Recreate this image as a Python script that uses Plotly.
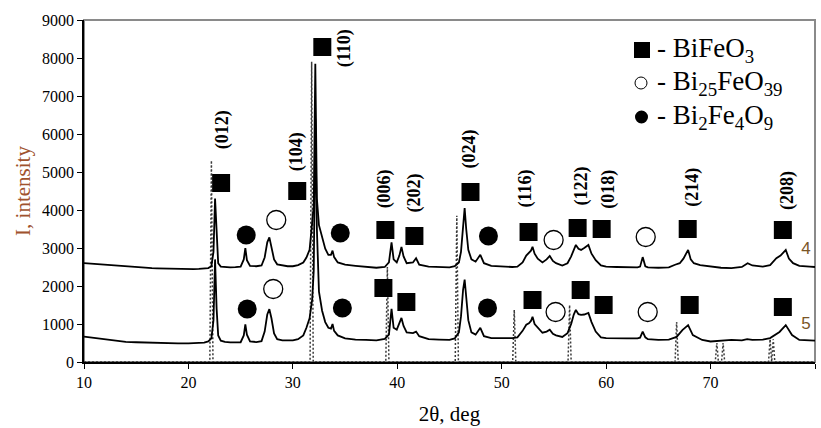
import plotly.graph_objects as go

# ---- XRD patterns (2θ in degrees, intensity in counts) ----
two_theta_4 = [10.0, 10.5, 11.0, 11.5, 12.0, 12.5, 13.0, 13.5, 14.0, 14.5, 15.0, 15.5, 16.0, 16.5,
               17.0, 17.5, 18.0, 18.5, 19.0, 19.5, 20.0, 20.5, 21.0, 21.5, 21.9, 22.2, 22.4, 22.55,
               22.7, 22.85, 23.1, 23.5, 24.0, 24.5, 25.0, 25.3, 25.45, 25.6, 25.9, 26.5, 27.0, 27.3,
               27.55, 27.75, 27.95, 28.2, 28.5, 29.0, 29.5, 30.0, 30.5, 31.0, 31.3, 31.6, 31.85, 32.0,
               32.15, 32.3, 32.5, 32.8, 33.1, 33.4, 33.65, 33.8, 33.95, 34.3, 35.0, 36.0, 37.0, 38.0,
               38.8, 39.2, 39.45, 39.65, 39.95, 40.2, 40.4, 40.6, 40.9, 41.5, 41.8, 42.1, 43.0, 44.0,
               45.0, 45.5, 45.9, 46.1, 46.3, 46.45, 46.6, 46.8, 47.1, 47.5, 47.95, 48.3, 49.0, 50.0,
               51.0, 51.5, 52.0, 52.35, 52.6, 52.8, 52.95, 53.15, 53.45, 53.9, 54.3, 54.6, 54.9, 55.2,
               55.8, 56.3, 56.65, 56.9, 57.1, 57.35, 57.6, 57.9, 58.3, 58.6, 59.0, 59.5, 60.0, 61.0,
               62.0, 63.0, 63.25, 63.5, 63.75, 64.0, 65.0, 66.0, 66.6, 67.05, 67.4, 67.85, 68.1, 68.4,
               69.0, 70.0, 71.0, 72.0, 73.0, 73.55, 74.0, 75.0, 75.7, 76.3, 76.7, 77.2, 77.5, 77.9,
               78.5, 79.5, 80.0]
intensity_4 = [2600, 2590, 2570, 2560, 2545, 2540, 2525, 2515, 2505, 2495, 2490, 2480, 2475, 2470,
               2465, 2460, 2455, 2450, 2445, 2440, 2440, 2445, 2450, 2455, 2470, 2520, 2900, 4300,
               3200, 2600, 2510, 2495, 2490, 2495, 2510, 2700, 3000, 2680, 2530, 2520, 2540, 2750,
               3150, 3280, 3050, 2700, 2570, 2540, 2520, 2520, 2550, 2620, 2750, 2950, 3600, 4100,
               7850, 4300, 3600, 3250, 2980, 2820, 2820, 2930, 2760, 2620, 2560, 2530, 2510, 2480,
               2500, 2620, 3150, 2700, 2620, 2800, 3030, 2780, 2600, 2620, 2730, 2560, 2510, 2500,
               2490, 2520, 2620, 2900, 3600, 4050, 3500, 2950, 2700, 2640, 2820, 2600, 2530, 2510,
               2500, 2510, 2620, 2800, 2870, 2930, 3030, 2850, 2720, 2620, 2700, 2790, 2660, 2600,
               2540, 2600, 2780, 2950, 3080, 2980, 2950, 3000, 3080, 2850, 2680, 2540, 2510, 2500,
               2495, 2490, 2510, 2760, 2520, 2490, 2480, 2490, 2560, 2600, 2720, 2950, 2700, 2600,
               2550, 2510, 2480, 2470, 2500, 2600, 2540, 2510, 2550, 2730, 2800, 2950, 2720, 2600,
               2530, 2510, 2500]

two_theta_5 = [10.0, 10.5, 11.0, 11.5, 12.0, 12.5, 13.0, 13.5, 14.0, 15.0, 16.0, 17.0, 18.0, 19.0,
               20.0, 21.0, 21.5, 21.9, 22.2, 22.4, 22.55, 22.7, 22.85, 23.1, 23.5, 24.0, 24.5, 25.0,
               25.3, 25.45, 25.6, 25.9, 26.5, 27.0, 27.3, 27.55, 27.75, 27.95, 28.2, 28.5, 29.0, 30.0,
               30.5, 31.0, 31.3, 31.6, 31.85, 32.0, 32.15, 32.3, 32.5, 32.8, 33.1, 33.4, 33.65, 33.8,
               33.95, 34.3, 35.0, 36.0, 37.0, 38.0, 38.8, 39.2, 39.45, 39.65, 39.95, 40.2, 40.4, 40.6,
               40.9, 41.5, 41.8, 42.1, 43.0, 44.0, 45.0, 45.5, 45.9, 46.1, 46.3, 46.45, 46.6, 46.8,
               47.1, 47.5, 47.95, 48.3, 49.0, 50.0, 51.0, 51.5, 52.0, 52.35, 52.6, 52.8, 52.95, 53.15,
               53.45, 53.9, 54.3, 54.6, 54.9, 55.2, 55.8, 56.3, 56.65, 56.9, 57.1, 57.35, 57.6, 57.9,
               58.3, 58.6, 59.0, 59.5, 60.0, 61.0, 62.0, 63.0, 63.25, 63.5, 63.75, 64.0, 65.0, 66.0,
               66.75, 67.3, 67.85, 68.3, 69.2, 70.0, 71.0, 72.0, 73.0, 73.5, 74.0, 75.0, 75.7, 76.6,
               77.2, 77.8, 78.5, 79.0, 80.0]
intensity_5 = [667, 650, 635, 610, 590, 570, 555, 540, 530, 520, 510, 500, 490, 490,
               490, 500, 510, 540, 620, 1100, 2700, 1400, 700, 560, 530, 515, 510, 520,
               700, 990, 720, 540, 525, 550, 800, 1250, 1390, 1150, 750, 600, 570, 570,
               600, 700, 900, 1150, 1650, 2400, 6400, 3500, 1850, 1350, 1050, 900, 880, 1000,
               820, 700, 620, 590, 580, 570, 610, 720, 1400, 900, 850, 1000, 1160, 950,
               780, 760, 800, 680, 600, 590, 580, 620, 780, 1200, 1900, 2170, 1700, 1100,
               780, 720, 900, 680, 630, 630, 630, 650, 820, 980, 1020, 1080, 1190, 1000,
               900, 770, 800, 850, 740, 700, 660, 760, 1000, 1250, 1370, 1260, 1240, 1250,
               1290, 1050, 800, 650, 630, 620, 620, 620, 640, 800, 650, 600, 580, 590,
               660, 840, 970, 710, 580, 540, 560, 580, 570, 600, 580, 590, 630, 790,
               970, 710, 580, 575, 560]

# Reference (card) lines for BiFeO3
stick_pos = [22.2, 31.8, 39.05, 45.7, 51.2, 56.5, 66.75, 70.6, 71.2, 75.7, 76.0]
stick_int = [5300, 7900, 2500, 3850, 1370, 1500, 1050, 500, 500, 600, 600]

# Phase identification markers
bfo_x = [23.13, 30.42, 32.82, 38.86, 41.64, 47.01, 52.57, 57.27, 59.57, 67.81, 76.92,
         38.67, 40.87, 52.95, 57.56, 59.76, 68.0, 76.92]
bfo_y = [4711, 4500, 8289, 3474, 3316, 4474, 3421, 3526, 3500, 3500, 3474,
         1947, 1579, 1632, 1895, 1500, 1500, 1447]
b25_x = [28.41, 54.97, 63.79, 28.12, 55.16, 63.98]
b25_y = [3737, 3211, 3289, 1921, 1316, 1316]
b24_x = [25.53, 34.54, 48.73, 25.63, 34.74, 48.64]
b24_y = [3342, 3395, 3316, 1395, 1421, 1421]

hkl_text = ["(012)", "(104)", "(110)", "(006)", "(202)", "(024)", "(116)", "(122)", "(018)", "(214)", "(208)"]
hkl_x = [23.23, 30.33, 34.93, 38.86, 41.64, 46.91, 52.28, 57.65, 60.24, 68.2, 77.31]
hkl_y = [6105, 5526, 8263, 4553, 4447, 5605, 4553, 4632, 4553, 4605, 4526]

sample_text = ["4", "5"]
sample_x = [79.13, 79.13]
sample_y = [2947, 974]

legend_text = ["- BiFeO<sub>3</sub>", "- Bi<sub>25</sub>FeO<sub>39</sub>", "- Bi<sub>2</sub>Fe<sub>4</sub>O<sub>9</sub>"]

SERIF = "Liberation Serif"
fig = go.Figure()

# card lines: dotted sticks joined along the zero line
sx, sy = [10.0], [0]
for p, h in zip(stick_pos, stick_int):
    sx += [p - 0.15, p, p + 0.15]
    sy += [0, h, 0]
sx.append(80.0)
sy.append(0)
fig.add_trace(go.Scatter(x=sx, y=sy, mode="lines",
                         line=dict(color="#3a3a3a", width=1.5, dash="2px,2px"), hoverinfo="skip"))

for xs, ys in ((two_theta_4, intensity_4), (two_theta_5, intensity_5)):
    fig.add_trace(go.Scatter(x=xs, y=ys, mode="lines",
                             line=dict(color="black", width=1.8)))

fig.add_trace(go.Scatter(x=bfo_x, y=bfo_y, mode="markers",
                         marker=dict(symbol="square", size=18, color="black")))
fig.add_trace(go.Scatter(x=b25_x, y=b25_y, mode="markers",
                         marker=dict(symbol="circle", size=19, color="white",
                                     line=dict(color="black", width=1.3))))
fig.add_trace(go.Scatter(x=b24_x, y=b24_y, mode="markers",
                         marker=dict(symbol="circle", size=19, color="black")))

fig.add_trace(go.Scatter(x=sample_x, y=sample_y, mode="text", text=sample_text,
                         textfont=dict(family="Liberation Sans", size=17, color="#7a5526")))

annotations = []
for t, x, y in zip(hkl_text, hkl_x, hkl_y):
    annotations.append(dict(x=x, y=y, xref="x", yref="y", text="<b>%s</b>" % t, textangle=-90,
                            showarrow=False, font=dict(family=SERIF, size=18, color="black")))

# legend block (top right)
leg_rows = [50, 83, 117]
for t, py in zip(legend_text, leg_rows):
    annotations.append(dict(x=(655 - 84) / 731, y=(362 - py) / 342, xref="paper", yref="paper",
                            text=t, xanchor="left", yanchor="middle", showarrow=False,
                            font=dict(family=SERIF, size=27, color="black")))

def px_x(p):
    return (p - 84) / 731

def px_y(p):
    return (362 - p) / 342

shapes = [
    dict(type="rect", xref="paper", yref="paper", x0=0, x1=1, y0=0, y1=1,
         line=dict(color="#8a8a8a", width=2), layer="below"),
    dict(type="rect", xref="paper", yref="paper", x0=px_x(634), x1=px_x(650), y0=px_y(58), y1=px_y(42),
         fillcolor="black", line=dict(width=0)),
    dict(type="circle", xref="paper", yref="paper", x0=px_x(635), x1=px_x(647), y0=px_y(89), y1=px_y(77),
         fillcolor="white", line=dict(color="black", width=1)),
    dict(type="circle", xref="paper", yref="paper", x0=px_x(635), x1=px_x(648), y0=px_y(123.5), y1=px_y(110.5),
         fillcolor="black", line=dict(width=0)),
]

fig.update_layout(
    width=821, height=428,
    margin=dict(l=84, r=6, t=20, b=66),
    paper_bgcolor="white", plot_bgcolor="white",
    showlegend=False,
    annotations=annotations, shapes=shapes,
    xaxis=dict(range=[10, 80], tick0=10, dtick=10, ticks="outside", ticklen=5, tickcolor="black",
               showline=True, linecolor="black", linewidth=1.5, showgrid=False, zeroline=False,
               tickfont=dict(family=SERIF, size=16, color="black"),
               title=dict(text="2θ, deg", font=dict(family=SERIF, size=21, color="black"), standoff=16)),
    yaxis=dict(range=[0, 9000], tick0=0, dtick=1000, ticks="outside", ticklen=5, tickcolor="black",
               showline=True, linecolor="black", linewidth=1.5, showgrid=False, zeroline=False,
               tickfont=dict(family=SERIF, size=16, color="black"),
               title=dict(text="I, intensity", font=dict(family=SERIF, size=21, color="#a0522d"), standoff=6)),
)

fig.write_html("out.html")
